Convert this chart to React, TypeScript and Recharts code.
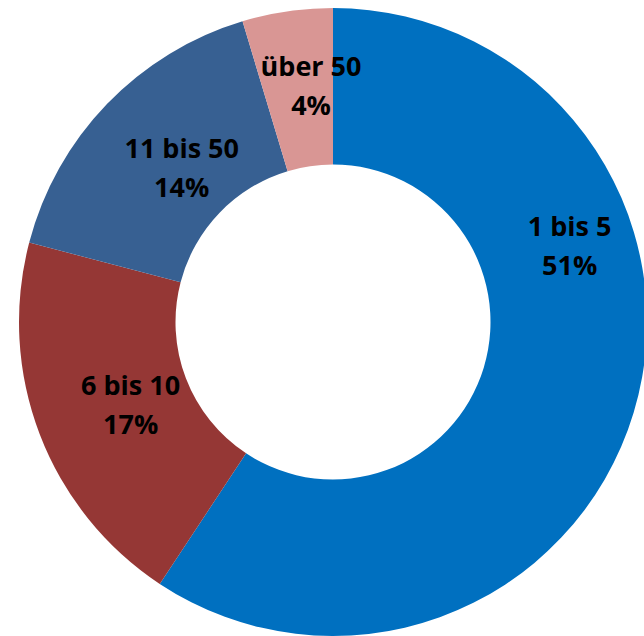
import { PieChart, Pie, Cell } from "recharts";

const categories = ["1 bis 5", "6 bis 10", "11 bis 50", "über 50"];
const shares = [51, 17, 14, 4];
const colors = ["#0070C0", "#953735", "#376092", "#D99694"];

const data = categories.map((name, i) => ({ name, value: shares[i] }));

const RAD = Math.PI / 180;
// the first label sits higher up in its slice, as in the original
const labelShift = [{ angle: 34, r: 12 }, { angle: 2, r: -16 }, { angle: -1, r: -22 }, { angle: -3, r: -1 }];

function renderLabel(props: any) {
    const { cx, cy, midAngle, innerRadius, outerRadius, index } = props;
    const shift = labelShift[index] || { angle: 0, r: 0 };
    const r = (innerRadius + outerRadius) / 2 + shift.r;
    const a = (midAngle + shift.angle) * RAD;
    const x = cx + r * Math.cos(-a);
    const y = cy + r * Math.sin(-a);
    return (
        <text
            x={x}
            y={y}
            textAnchor="middle"
            fontFamily="'Open Sans', sans-serif"
            fontWeight={700}
            fontSize={27}
            fill="#000"
        >
            <tspan x={x} y={y - 23} dominantBaseline="central">
                {categories[index]}
            </tspan>
            <tspan x={x} y={y + 16} dominantBaseline="central">
                {shares[index]}%
            </tspan>
        </text>
    );
}

export default function App() {
    return (
        <div style={{ position: "absolute", left: 0, top: 0 }}>
            <PieChart
                width={644}
                height={636}
                margin={{ top: 0, right: 0, bottom: 0, left: 0 }}
            >
                <Pie
                    data={data}
                    dataKey="value"
                    nameKey="name"
                    cx={333}
                    cy={322}
                    innerRadius={157.5}
                    outerRadius={314}
                    startAngle={90}
                    endAngle={-270}
                    stroke="none"
                    label={renderLabel}
                    labelLine={false}
                    isAnimationActive={false}
                >
                    {data.map((d, i) => (
                        <Cell key={d.name} fill={colors[i]} />
                    ))}
                </Pie>
            </PieChart>
        </div>
    );
}
